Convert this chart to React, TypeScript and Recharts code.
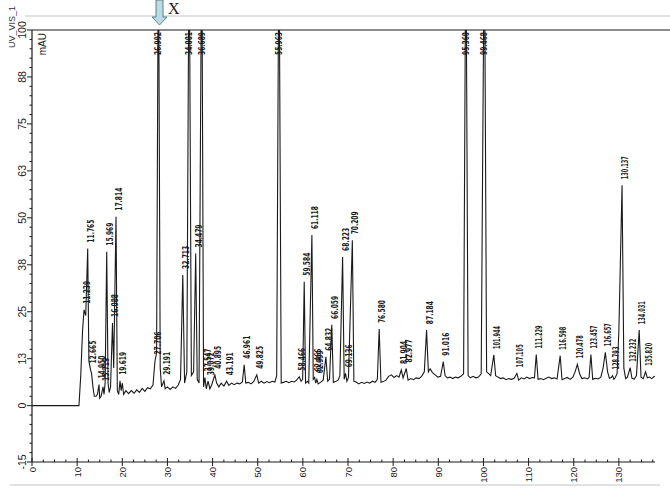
import React from 'react';
import { ComposedChart, Line, Scatter, XAxis, YAxis } from 'recharts';

// Chromatogram trace (retention time in min, signal in mAU)
const TRACE_TIME = [
  0, 10.4, 10.8, 11.2, 11.52, 11.9, 12.34, 12.6, 12.96, 13.2, 13.5, 13.8, 14.2, 14.5, 14.84, 15.0, 15.3, 15.73, 15.95, 16.2,
  16.55, 16.85, 17.1, 17.4, 17.83, 18.1, 18.61, 18.9, 19.2, 19.5, 19.75, 20.0, 20.3, 20.8, 21.4, 22.0, 22.6, 23.2, 23.8, 24.4,
  25.0, 25.6, 26.2, 26.8, 27.25, 27.6, 28.0, 28.4, 28.7, 29.24, 29.5, 30.0, 30.6, 31.2, 31.8, 32.4, 32.9, 33.4, 33.8, 34.3,
  34.8, 35.3, 35.8, 36.26, 36.6, 37.0, 37.6, 38.0, 38.3, 38.6, 39.0, 39.4, 39.8, 40.5, 40.9, 41.4, 41.9, 42.5, 43.1, 43.6,
  44.2, 44.8, 45.4, 46.0, 46.6, 47.0, 47.35, 47.9, 48.5, 49.1, 49.8, 50.2, 50.8, 51.4, 52.0, 52.6, 53.2, 53.8, 54.2, 54.7,
  55.2, 55.7, 56.3, 56.9, 57.5, 58.1, 58.6, 59.2, 59.6, 59.95, 60.3, 60.6, 61.0, 61.3, 62.0, 62.3, 62.6, 62.85, 63.1, 63.4,
  63.9, 64.5, 65.1, 65.5, 65.9, 66.4, 66.75, 67.2, 67.8, 68.2, 68.8, 69.15, 69.45, 69.75, 70.1, 70.96, 71.3, 71.8, 72.4, 73.0,
  73.6, 74.2, 74.8, 75.4, 76.0, 76.5, 76.9, 77.3, 77.8, 78.4, 79.0, 79.6, 80.2, 80.8, 81.3, 81.8, 82.2, 82.9, 83.3, 83.9,
  84.5, 85.1, 85.7, 86.3, 86.9, 87.4, 87.8, 88.2, 88.7, 89.3, 89.9, 90.5, 91.1, 91.5, 92.0, 92.6, 93.2, 93.8, 94.4, 95.0,
  95.6, 96.1, 96.6, 97.1, 97.7, 98.3, 98.9, 99.5, 100.2, 100.7, 101.1, 101.6, 102.3, 102.7, 103.2, 103.8, 104.4, 105.0, 105.6, 106.2,
  106.8, 107.4, 107.8, 108.4, 109.0, 109.6, 110.2, 110.8, 111.3, 111.7, 112.1, 112.7, 113.3, 113.9, 114.5, 115.1, 115.7, 116.3, 117.0, 117.4,
  118.0, 118.6, 119.2, 119.8, 120.3, 120.8, 121.3, 121.8, 122.4, 123.0, 123.4, 123.8, 124.2, 124.8, 125.4, 126.0, 126.5, 127.0, 127.5, 127.9,
  128.3, 128.6, 128.9, 129.2, 129.6, 130.0, 130.7, 131.1, 131.5, 131.9, 132.5, 132.9, 133.4, 133.9, 134.5, 134.9, 135.4, 135.9, 136.3, 136.8,
  137.3, 137.8, 138.0,
];
const TRACE_MAU = [
  0, 0, 8, 20, 25.5, 24, 41.8, 12, 9.6, 8.5, 5, 2.5, 2.5, 3, 5.6, 2, 2.5, 5, 3, 6,
  41, 6, 3.5, 5, 22, 10, 50.3, 4, 3, 6.6, 4, 6, 3, 4, 3.2, 4, 3.3, 4.2, 3.5, 4.6,
  3.8, 4.8, 4.5, 5.5, 12, 14, 130, 10, 5, 6.6, 4.5, 5, 4.3, 5, 4.6, 5.5, 7, 34.8, 6, 9,
  130, 8, 9, 40.5, 7, 6, 130, 5, 7.5, 4.5, 6.5, 4.5, 5.5, 8.2, 6, 5, 6, 5.2, 6.5, 5.4,
  6, 5.6, 6, 5.8, 6.3, 10.9, 6, 6.2, 5.8, 6.4, 8.2, 6, 6.5, 6, 6.4, 6.1, 6.5, 6.3, 8, 130,
  6, 6.2, 6.5, 6.1, 6.5, 6.3, 6.8, 7.7, 6.5, 7, 33, 6, 6.5, 6, 45.4, 7, 7.5, 6, 7, 5.8,
  6.2, 6.8, 13, 6.5, 7, 21.5, 6.2, 6.4, 6.8, 8, 39.6, 7, 8.6, 6.5, 7.5, 44, 6.5, 6.3, 5.8, 6.2,
  5.9, 6.3, 6, 6.5, 6.2, 7, 20.4, 6.2, 6.4, 6.8, 7.8, 8.2, 7.5, 8, 7.6, 9.5, 7.4, 9.9, 6.8, 7.2,
  6.9, 7.4, 7.2, 7.8, 9, 20.1, 9, 9.8, 8.8, 8.2, 7.6, 7.8, 11.7, 8, 7.4, 7.6, 7.2, 7.6, 7.4, 7.8,
  8.5, 130, 8, 7.4, 7.8, 7.4, 7.6, 8.5, 130, 9, 8.6, 8, 13.5, 8, 7.6, 7.2, 7.4, 6.9, 7.2, 7,
  7.3, 8.6, 6.8, 7.4, 7.1, 7.6, 7.2, 7.5, 7.4, 13.6, 7, 7.2, 6.9, 7.3, 7.6, 7.2, 7.4, 7.1, 13.3, 6.9,
  7.2, 7.5, 7, 7.6, 9, 11, 8.5, 7.2, 7.4, 7.1, 7.5, 13.6, 7, 7.3, 7.1, 7.6, 10, 14.2, 9, 7.3,
  7.5, 8, 7, 7.5, 8.5, 20, 58.7, 10, 7.2, 7.6, 10.1, 7.3, 7.1, 8, 20.1, 7.6, 7.2, 9, 7.4, 7.6,
  7.2, 7.8, 7.7,
];

// Peak annotations: position, apex height and printed retention time
const PEAK_TIME = [
  11.52, 12.34, 12.96, 14.84, 15.73, 16.55, 17.83, 18.61, 19.5, 28.0, 27.25, 29.24, 33.4, 34.8, 36.26, 37.6, 38.3, 39.0, 40.5, 43.1,
  47.0, 49.8, 54.7, 59.2, 60.3, 62.0, 62.6, 63.1, 65.1, 66.4, 68.8, 69.45, 70.96, 76.9, 81.8, 82.9, 87.4, 91.1, 96.1, 100.2,
  102.3, 107.4, 111.7, 117.0, 120.8, 123.8, 127.0, 128.6, 130.7, 132.5, 134.5, 135.9,
];
const PEAK_MAU = [
  25.5, 41.8, 9.6, 5.6, 5, 41, 22, 50.3, 6.6, 130, 12, 6.6, 34.8, 130, 40.5, 130, 7.5, 6.5, 8.2, 6.5,
  10.9, 8.2, 130, 7.7, 33, 45.4, 7.5, 7, 13, 21.5, 39.6, 8.6, 44, 20.4, 9.5, 9.9, 20.1, 11.7, 130, 130,
  13.5, 8.6, 13.6, 13.3, 11, 13.6, 14.2, 8, 58.7, 10.1, 20.1, 9,
];
const PEAK_LABELS = [
  '11.239', '11.765', '12.665', '14.950', '15.719', '15.969', '16.088', '17.814', '19.619', '26.992', '27.706', '29.191', '32.713', '34.001', '34.479', '36.689', '37.547', '39.072', '40.895', '43.191',
  '46.961', '49.825', '55.963', '58.466', '59.584', '61.118', '62.466', '62.999', '64.832', '66.059', '68.223', '69.136', '70.209', '76.580', '81.904', '82.977', '87.184', '91.016', '95.360', '99.468',
  '101.944', '107.105', '111.229', '116.598', '120.478', '123.457', '126.657', '128.793', '130.137', '132.232', '134.031', '135.820',
];

const X_MAJOR = [0, 10, 20, 30, 40, 50, 60, 70, 80, 90, 100, 110, 120, 130];
const X_LABELS = ['0', '10', '20', '30', '40', '50', '60', '70', '80', '90', '100', '110', '120', '130'];
const Y_MAJOR = [-15, 0, 12.5, 25, 37.5, 50, 62.5, 75, 87.5, 100];
const Y_LABELS = ['-15', '0', '13', '25', '38', '50', '63', '75', '88', '100'];

const traceData = TRACE_TIME.map((t, i) => ({ t, v: TRACE_MAU[i] }));
const peakData = PEAK_TIME.map((t, i) => ({ t, h: PEAK_MAU[i], label: PEAK_LABELS[i] }));

const xTicks: number[] = [];
for (let v = 0; v <= 137.5; v += 2.5) xTicks.push(v);
const yTicks: number[] = [];
for (let v = -15; v <= 100; v += 2.5) yTicks.push(v);

const INK = '#1a1a1a';
const SANS = "'Liberation Sans', Arial, sans-serif";
const NARROW = "'Liberation Sans Narrow', 'DejaVu Sans Condensed', 'Liberation Sans', sans-serif";
const PLOT_TOP = 30;

const XTick = (props: any) => {
  const { x, y, payload } = props;
  const idx = X_MAJOR.indexOf(payload.value);
  if (idx < 0) {
    return <line x1={x} x2={x} y1={y} y2={y - 2.5} stroke={INK} strokeWidth={1} />;
  }
  const ty = y + 5;
  return (
    <g>
      <line x1={x} x2={x} y1={y - 4} y2={y + 4} stroke={INK} strokeWidth={1} />
      <text
        x={x}
        y={ty}
        transform={`rotate(-90 ${x} ${ty})`}
        textAnchor="end"
        dominantBaseline="central"
        fontSize={9.5}
        fontFamily={SANS}
        fill={INK}
      >
        {X_LABELS[idx]}
      </text>
    </g>
  );
};

const YTick = (props: any) => {
  const { x, y, payload } = props;
  const idx = Y_MAJOR.indexOf(payload.value);
  if (idx < 0) {
    return <line x1={x} x2={x - 2.5} y1={y} y2={y} stroke={INK} strokeWidth={1} />;
  }
  const tx = x - 10;
  return (
    <g>
      <line x1={x} x2={x - 5} y1={y} y2={y} stroke={INK} strokeWidth={1} />
      <text
        x={tx}
        y={y}
        transform={`rotate(-90 ${tx} ${y})`}
        textAnchor="middle"
        dominantBaseline="central"
        fontSize={10.5}
        fontFamily={SANS}
        fill={INK}
      >
        {Y_LABELS[idx]}
      </text>
    </g>
  );
};

const PeakLabel = (props: any) => {
  const { cx, cy, payload } = props;
  if (cx == null || cy == null || !payload) return <g />;
  const common = {
    fontSize: 9,
    fontFamily: NARROW,
    fontWeight: 700 as const,
    fill: INK,
    textLength: 23,
    lengthAdjust: 'spacingAndGlyphs' as const,
    dominantBaseline: 'central' as const,
  };
  if (cy < PLOT_TOP + 4) {
    const ty = PLOT_TOP + 2;
    return (
      <text x={cx} y={ty} transform={`rotate(-90 ${cx} ${ty})`} textAnchor="end" {...common}>
        {payload.label}
      </text>
    );
  }
  const lx = cx + 3;
  const ly = cy - 6;
  return (
    <text x={lx} y={ly} transform={`rotate(-90 ${lx} ${ly})`} textAnchor="start" {...common}>
      {payload.label}
    </text>
  );
};

export default function App() {
  return (
    <div style={{ position: 'absolute', left: 0, top: 0, width: 670, height: 499, background: '#fff' }}>
      <ComposedChart width={670} height={499} margin={{ top: PLOT_TOP, right: 15, bottom: 0, left: 0 }}>
        <XAxis
          dataKey="t"
          type="number"
          domain={[0, 138]}
          allowDataOverflow
          ticks={xTicks}
          interval={0}
          tick={<XTick />}
          tickLine={false}
          tickSize={0}
          tickMargin={0}
          height={37}
          axisLine={{ stroke: INK, strokeWidth: 1.2 }}
        />
        <YAxis
          type="number"
          domain={[-15, 100]}
          allowDataOverflow
          ticks={yTicks}
          interval={0}
          tick={<YTick />}
          tickLine={false}
          tickSize={0}
          tickMargin={0}
          width={32}
          axisLine={{ stroke: INK, strokeWidth: 1.2 }}
        />
        <Line
          data={traceData}
          dataKey="v"
          type="linear"
          stroke={INK}
          strokeWidth={1.1}
          dot={false}
          activeDot={false}
          isAnimationActive={false}
        />
        <Scatter
          data={peakData}
          dataKey="h"
          shape={<PeakLabel />}
          isAnimationActive={false}
        />
      </ComposedChart>
      <svg
        width={670}
        height={499}
        style={{ position: 'absolute', left: 0, top: 0, pointerEvents: 'none' }}
      >
        <line x1={25} x2={670} y1={16} y2={16} stroke="#c4c4c4" strokeWidth={1} />
        <line x1={10} x2={660} y1={485} y2={485} stroke="#c4c4c4" strokeWidth={1} />
        <line x1={32} x2={670} y1={PLOT_TOP} y2={PLOT_TOP} stroke={INK} strokeWidth={1.2} />
        <text
          x={12}
          y={48}
          transform="rotate(-90 12 48)"
          textAnchor="start"
          dominantBaseline="central"
          fontSize={9}
          fontFamily={SANS}
          fill="#333"
        >
          UV_VIS_1
        </text>
        <text
          x={42}
          y={33}
          transform="rotate(-90 42 33)"
          textAnchor="end"
          dominantBaseline="central"
          fontSize={10}
          fontFamily={SANS}
          fill={INK}
        >
          mAU
        </text>
        <path
          d="M156,0 L163,0 L163,17 L167,17 L159.5,25 L152,17 L156,17 Z"
          fill="#b9dbe2"
          stroke="#5f7f86"
          strokeWidth={1}
        />
        <text x={168} y={14} fontSize={16} fontFamily="'Liberation Serif', serif" fill="#222">
          X
        </text>
      </svg>
    </div>
  );
}
